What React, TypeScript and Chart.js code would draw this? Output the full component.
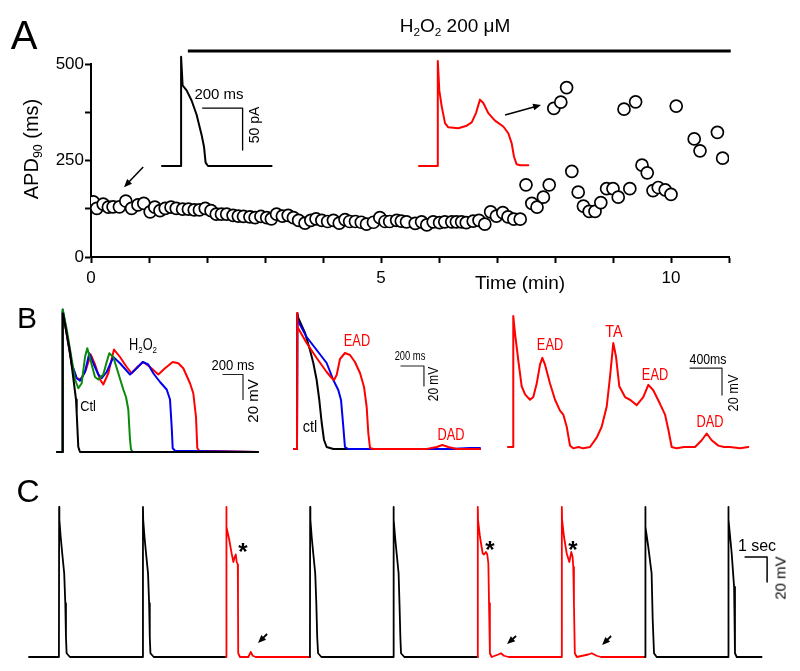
import React, { useEffect, useRef } from "react";
import { Chart, registerables } from "chart.js";
Chart.register(...registerables);

const FONT = "'Liberation Sans', Arial, Helvetica, sans-serif";
const RED = "#ff0000";
const BLACK = "#000000";
const GREEN = "#0a8a0a";
const BLUE = "#0000f0";

type Pt = [number, number];

// ---------- Panel A: APD90 (ms) vs time (min) ----------
const apdTime = [
  0.04, 0.1, 0.21, 0.3, 0.38, 0.49, 0.6, 0.7, 0.81, 0.91, 1.02, 1.1, 1.19, 1.28, 1.38, 1.47, 1.58, 1.68, 1.78, 1.87,
  1.97, 2.07, 2.16, 2.25, 2.34, 2.45, 2.54, 2.63, 2.74, 2.83, 2.93, 3.03, 3.11, 3.2, 3.3, 3.4, 3.49, 3.58, 3.69, 3.79,
  3.88, 3.98, 4.08, 4.18, 4.28, 4.38, 4.46, 4.56, 4.66, 4.75, 4.87, 4.98, 5.07, 5.15, 5.27, 5.35, 5.44, 5.59, 5.7, 5.79,
  5.9, 6.01, 6.1, 6.22, 6.3, 6.39, 6.47, 6.59, 6.69, 6.79, 6.89, 6.99, 7.1, 7.19, 7.29, 7.4, 7.5, 7.6, 7.69, 7.8,
  7.9, 7.98, 8.1, 8.2, 8.29, 8.4, 8.49, 8.59, 8.69, 8.79, 8.89, 9.0, 9.09, 9.19, 9.29, 9.39, 9.5, 9.59, 9.69, 9.78,
  9.9, 10.0, 10.09, 10.4, 10.5, 10.8, 10.89,
];
const apdValue = [
  143, 126, 137, 129, 130, 130, 145, 126, 135, 139, 117, 129, 120, 126, 129, 126, 124, 124, 122, 122,
  126, 120, 111, 111, 111, 108, 106, 105, 104, 102, 105, 102, 99, 111, 106, 108, 102, 95, 88, 95,
  99, 95, 92, 95, 88, 97, 92, 92, 90, 85, 90, 102, 92, 92, 95, 93, 91, 87, 91, 83,
  91, 89, 91, 91, 91, 91, 89, 93, 95, 85, 117, 106, 115, 104, 98, 98, 187, 139, 129, 155,
  187, 385, 401, 439, 222, 168, 132, 118, 118, 141, 177, 177, 155, 383, 177, 402, 238, 218, 172, 180,
  174, 162, 391, 306, 275, 323, 256,
];
const h2o2Bar: Pt[] = [[1.67, 534], [11.03, 534]];
const apdArrows = [
  { from: [0.9, 233] as Pt, to: [0.57, 181] as Pt },
  { from: [7.14, 368] as Pt, to: [7.76, 394] as Pt },
];
const xTickStep = 1;
const yTickStep = 125;

// inset traces in panel A (time ms, current pA)
const insetCtl: Pt[] = [[0, 0], [95, 0], [95.5, 130], [103, 96], [123, 90], [148, 78], [173, 61], [198, 37], [210, 23], [218, 4], [230, 0], [548, 0]];
const insetH2O2: Pt[] = [[0, 0], [93.5, 0], [94, 125], [101.5, 90], [113.5, 71], [130, 51], [146.5, 46], [196.5, 45], [238.5, 48], [263.5, 52], [285, 63], [305, 79], [321.5, 75], [346.5, 63], [380, 54], [421.5, 47], [446.5, 39], [463.5, 27], [475, 11], [488.5, 2], [505, 1], [546.5, 1]];
const insetBar: Pt[] = [[203, 69], [403, 69], [403, 19]];

// ---------- Panel B (time ms, voltage mV) ----------
const b1Ctl: Pt[] = [[0, -80], [55, -80], [57, 31], [63, 30], [130, 0], [190, -38], [197, -49], [213, -76], [230, -80], [2010, -80]];
const b1Green: Pt[] = [[0, -80], [55, -80], [57, 34], [97, 18], [147, -6], [180, -22], [213, -29], [247, -25], [280, -4], [303, 3], [330, -5], [380, -20], [413, -22], [463, -18], [497, -8], [523, -1], [563, -4], [613, -17], [663, -30], [690, -36], [713, -46], [730, -70], [740, -78], [760, -80], [2010, -80]];
const b1Blue: Pt[] = [[0, -80], [55, -80], [57, 34], [97, 15], [147, -9], [197, -21], [230, -23], [280, -16], [323, -1], [363, -9], [413, -18], [447, -21], [497, -16], [563, -4], [630, -9], [730, -18], [797, -13], [857, -8], [913, -10], [963, -17], [1030, -24], [1097, -30], [1130, -38], [1147, -60], [1157, -77], [1180, -79], [2010, -80]];
const b1Red: Pt[] = [[0, -80], [55, -80], [57, 32], [97, 14], [147, -10], [197, -21], [237, -22], [290, -14], [337, -2], [380, -10], [430, -22], [463, -26], [513, -17], [570, 2], [630, -4], [697, -12], [747, -17], [803, -12], [863, -8], [930, -12], [1013, -18], [1080, -13], [1157, -8], [1213, -9], [1263, -13], [1330, -25], [1363, -33], [1390, -52], [1403, -77], [1423, -79], [2010, -80]];
const b1Bar: Pt[] = [[1660, -18], [1860, -18], [1860, -38]];

const b2Ctl: Pt[] = [[0, -80], [26, -80], [29, 56], [37, 51], [96, 36], [139, 19], [168, 6], [197, -11], [220, -31], [241, -54], [261, -71], [284, -78], [342, -80], [1617, -80]];
const b2Blue: Pt[] = [[0, -80], [26, -80], [29, 54], [30, 49], [110, 32], [197, 19], [284, 6], [342, -11], [385, -21], [409, -31], [429, -58], [443, -78], [472, -80], [1357, -80], [1530, -79], [1617, -79]];
const b2Red: Pt[] = [[0, -80], [26, -80], [29, 56], [30, 42], [110, 26], [197, 11], [284, -3], [328, -9], [348, -11], [371, -6], [400, 10], [443, 16], [487, 14], [530, 7], [574, -4], [609, -18], [632, -38], [646, -64], [661, -79], [690, -80], [1154, -80], [1241, -78], [1290, -76], [1342, -78], [1415, -80], [1617, -80]];
const b2Bar: Pt[] = [[930, 3], [1130, 3], [1130, -17]];

const b3Trace: Pt[] = [[0, -80], [63, -80], [66, 17], [88, 4], [129, -16], [171, -35], [213, -41], [275, -45], [316, -43], [359, -33], [400, -19], [429, -14], [463, -19], [525, -33], [588, -45], [650, -53], [691, -56], [734, -65], [775, -79], [816, -81], [880, -80], [941, -81], [1025, -80], [1109, -73], [1171, -65], [1234, -50], [1275, -28], [1316, -3], [1350, -13], [1391, -35], [1463, -43], [1525, -45], [1609, -49], [1691, -43], [1754, -34], [1816, -38], [1900, -48], [1963, -56], [2004, -67], [2046, -80], [2109, -81], [2200, -80], [2338, -80], [2421, -75], [2484, -70], [2546, -75], [2629, -79], [2700, -80], [2775, -80], [2900, -81], [3004, -80]];
const b3Bar: Pt[] = [[2275, -21.5], [2675, -21.5], [2675, -41.5]];

// ---------- Panel C (time s, voltage mV) ----------
const cTrace: Pt[] = [
  [0, -80],
  [1.36, -80], [1.37, 40], [1.38, 30], [1.44, 16], [1.51, 3], [1.6, -13], [1.65, -37], [1.68, -64], [1.71, -77], [1.86, -80],
  [5.17, -80], [5.18, 40], [5.19, 30], [5.25, 16], [5.32, 3], [5.41, -13], [5.46, -37], [5.49, -64], [5.52, -77], [5.67, -80],
  [8.955, -80], [8.96, 40], [8.99, 24], [9.1, 14], [9.21, 3], [9.29, -4], [9.35, 0], [9.4, 2], [9.44, -4], [9.49, -6], [9.5, -37], [9.51, -77], [9.59, -80], [9.97, -80], [10.08, -76], [10.17, -79], [10.3, -80],
  [12.77, -80], [12.78, 40], [12.79, 30], [12.85, 16], [12.92, 3], [13.01, -13], [13.06, -37], [13.1, -64], [13.14, -77], [13.29, -80],
  [16.56, -80], [16.57, 40], [16.58, 30], [16.64, 16], [16.71, 3], [16.8, -13], [16.84, -37], [16.88, -64], [16.91, -77], [17.06, -80],
  [20.395, -80], [20.4, 40], [20.41, 30], [20.5, 16], [20.62, 3], [20.68, 2], [20.77, 4], [20.83, 2], [20.88, -5], [20.91, -37], [20.95, -77], [21.03, -80], [21.33, -78], [21.45, -77], [21.59, -79], [21.8, -80],
  [24.214, -80], [24.22, 40], [24.23, 30], [24.32, 16], [24.44, 3], [24.56, -4], [24.65, 4], [24.71, 0], [24.74, -8], [24.77, -37], [24.81, -77], [24.9, -80], [25.42, -78], [25.58, -77], [25.8, -79], [26.0, -80],
  [28.0, -80], [28.01, 40], [28.03, 24], [28.15, 8], [28.3, -13], [28.35, -50], [28.41, -77], [28.53, -80],
  [31.786, -80], [31.79, 40], [31.8, 30], [31.94, 3], [32.05, -24], [32.09, -77], [32.17, -80],
  [33.3, -80],
];
const cRedIntervals: Pt[] = [[7.545, 11.41], [19.0, 26.73]];
const cBar: Pt[] = [[32.55, 0], [33.55, 0], [33.55, -20]];
const cArrows = [
  { from: [10.82, -61.6] as Pt, to: [10.41, -68.8] as Pt },
  { from: [22.14, -63.2] as Pt, to: [21.73, -69.6] as Pt },
  { from: [26.46, -63.2] as Pt, to: [26.05, -70.4] as Pt },
];

// ---------- helpers ----------
type Arrow = { from: Pt; to: Pt };
function arrowPlugin(arrows: Arrow[], head: number, lw: number) {
  return {
    id: "arrows",
    afterDatasetsDraw(chart: any) {
      const { ctx } = chart;
      const xs = chart.scales.x, ys = chart.scales.y;
      ctx.save();
      ctx.strokeStyle = "#000";
      ctx.fillStyle = "#000";
      ctx.lineWidth = lw;
      for (const a of arrows) {
        const x1 = xs.getPixelForValue(a.from[0]), y1 = ys.getPixelForValue(a.from[1]);
        const x2 = xs.getPixelForValue(a.to[0]), y2 = ys.getPixelForValue(a.to[1]);
        const ang = Math.atan2(y2 - y1, x2 - x1);
        const c = Math.cos(ang), s = Math.sin(ang);
        ctx.beginPath();
        ctx.moveTo(x1, y1);
        ctx.lineTo(x2 - c * head * 0.7, y2 - s * head * 0.7);
        ctx.stroke();
        ctx.beginPath();
        ctx.moveTo(x2, y2);
        ctx.lineTo(x2 - head * c + head * 0.42 * s, y2 - head * s - head * 0.42 * c);
        ctx.lineTo(x2 - head * c - head * 0.42 * s, y2 - head * s + head * 0.42 * c);
        ctx.closePath();
        ctx.fill();
      }
      ctx.restore();
    },
  };
}

type Series = { pts: Pt[]; color: string; width: number; seg?: (x: number) => string };
type PanelProps = {
  left: number; top: number; width: number; height: number;
  ox: number; oy: number; sx: number; sy: number; yRef: number;
  series: Series[]; arrows?: Arrow[]; head?: number; arrowWidth?: number;
};

function TracePanel(p: PanelProps) {
  const ref = useRef<HTMLCanvasElement>(null);
  useEffect(() => {
    const xMin = (p.left - p.ox) / p.sx;
    const xMax = (p.left + p.width - p.ox) / p.sx;
    const yMax = p.yRef + (p.oy - p.top) / p.sy;
    const yMin = p.yRef + (p.oy - p.top - p.height) / p.sy;
    const chart = new Chart(ref.current as HTMLCanvasElement, {
      type: "line",
      data: {
        datasets: p.series.map((s) => ({
          data: s.pts.map(([x, y]) => ({ x, y })),
          borderColor: s.color,
          borderWidth: s.width,
          pointRadius: 0,
          tension: 0,
          fill: false,
          borderJoinStyle: "round",
          borderCapStyle: "round",
          segment: s.seg ? { borderColor: (ctx: any) => s.seg!(ctx.p0.parsed.x) } : undefined,
        })) as any,
      },
      options: {
        animation: false,
        responsive: false,
        events: [],
        layout: { padding: 0 },
        scales: {
          x: { type: "linear", min: xMin, max: xMax, display: false },
          y: { type: "linear", min: yMin, max: yMax, display: false },
        },
        plugins: { legend: { display: false }, tooltip: { enabled: false } },
      },
      plugins: p.arrows ? [arrowPlugin(p.arrows, p.head || 6, p.arrowWidth || 1.5)] : [],
    });
    return () => chart.destroy();
  }, []);
  return (
    <canvas
      ref={ref}
      width={p.width}
      height={p.height}
      style={{ position: "absolute", left: p.left, top: p.top, width: p.width, height: p.height }}
    />
  );
}

function ApdChart() {
  const ref = useRef<HTMLCanvasElement>(null);
  useEffect(() => {
    const pts = apdTime.map((t, i) => ({ x: t, y: apdValue[i] }));
    const tickFont = { family: FONT, size: 17 };
    const chart = new Chart(ref.current as HTMLCanvasElement, {
      type: "scatter",
      data: {
        datasets: [
          {
            type: "line",
            data: h2o2Bar.map(([x, y]) => ({ x, y })),
            borderColor: "#000",
            borderWidth: 3,
            pointRadius: 0,
            clip: false,
          } as any,
          {
            data: pts,
            pointRadius: 6,
            pointHoverRadius: 6,
            borderWidth: 1.7,
            borderColor: "#000",
            backgroundColor: "#fff",
          },
        ],
      },
      options: {
        animation: false,
        responsive: false,
        events: [],
        layout: { padding: { left: 0, top: 64, right: 71, bottom: 0 } },
        scales: {
          x: {
            type: "linear",
            min: 0,
            max: 11,
            afterFit: (s: any) => { s.height = 43; },
            border: { display: true, color: "#000", width: 2 },
            grid: { display: true, drawOnChartArea: false, drawTicks: true, tickLength: 6, tickWidth: 2, tickColor: "#000" },
            ticks: {
              stepSize: xTickStep,
              autoSkip: false,
              maxRotation: 0,
              padding: 5,
              color: "#000",
              font: tickFont,
              callback: (v: any) => (Number(v) % 5 === 0 ? String(v) : ""),
            },
          },
          y: {
            type: "linear",
            min: 0,
            max: 500,
            afterFit: (s: any) => { s.width = 91; },
            border: { display: true, color: "#000", width: 2 },
            grid: { display: true, drawOnChartArea: false, drawTicks: true, tickLength: 6, tickWidth: 2, tickColor: "#000" },
            ticks: {
              stepSize: yTickStep,
              autoSkip: false,
              padding: 1,
              color: "#000",
              font: tickFont,
              callback: (v: any) => (Number(v) % 250 === 0 ? String(v) : ""),
            },
          },
        },
        plugins: { legend: { display: false }, tooltip: { enabled: false } },
      },
      plugins: [arrowPlugin(apdArrows, 8, 1.5)],
    });
    return () => chart.destroy();
  }, []);
  return <canvas ref={ref} width={800} height={300} style={{ position: "absolute", left: 0, top: 0, width: 800, height: 300 }} />;
}

const Sub = ({ children }: { children: any }) => (
  <span style={{ fontSize: "0.62em", position: "relative", top: "0.32em" }}>{children}</span>
);

function Label(props: {
  x: number; y: number; size: number; children: any; color?: string; rot?: boolean;
  bold?: boolean; sx?: number;
}) {
  const { x, y, size, children, color = "#000", rot = false, bold = false, sx = 1 } = props;
  const rotPart = rot ? " rotate(-90deg)" : "";
  const scalePart = sx !== 1 ? ` scaleX(${sx})` : "";
  return (
    <div
      style={{
        position: "absolute",
        left: x,
        top: y,
        transform: `translate(-50%, -50%)${rotPart}${scalePart}`,
        fontSize: size,
        color,
        fontFamily: FONT,
        fontWeight: bold ? 700 : 400,
        lineHeight: 1,
        whiteSpace: "nowrap",
      }}
    >
      {children}
    </div>
  );
}

const inRed = (x: number) => cRedIntervals.some(([a, b]) => x >= a && x < b);

export default function App() {
  return (
    <div style={{ position: "absolute", left: 0, top: 0, width: 800, height: 671, background: "#fff", overflow: "hidden" }}>
      <ApdChart />
      <TracePanel left={155} top={50} width={125} height={122} ox={162} oy={166} sx={0.2} sy={0.84} yRef={0}
        series={[{ pts: insetCtl, color: BLACK, width: 2 }, { pts: insetBar, color: BLACK, width: 1.3 }]} />
      <TracePanel left={412} top={50} width={125} height={122} ox={419} oy={166} sx={0.2} sy={0.84} yRef={0}
        series={[{ pts: insetH2O2, color: RED, width: 2 }]} />

      <TracePanel left={52} top={300} width={212} height={160} ox={57} oy={452} sx={0.1} sy={1.25} yRef={-80}
        series={[
          { pts: b1Ctl, color: BLACK, width: 2 },
          { pts: b1Green, color: GREEN, width: 2 },
          { pts: b1Blue, color: BLUE, width: 2 },
          { pts: b1Red, color: RED, width: 2 },
          { pts: b1Bar, color: "#222", width: 1.2 },
        ]} />
      <TracePanel left={288} top={305} width={200} height={150} ox={294} oy={449} sx={0.115} sy={1} yRef={-80}
        series={[
          { pts: b2Red, color: RED, width: 2 },
          { pts: b2Blue, color: BLUE, width: 2 },
          { pts: b2Ctl, color: BLACK, width: 2 },
          { pts: b2Bar, color: "#222", width: 1.2 },
        ]} />
      <TracePanel left={500} top={305} width={255} height={150} ox={508} oy={447} sx={0.08} sy={1.35} yRef={-80}
        series={[
          { pts: b3Trace, color: RED, width: 2 },
          { pts: b3Bar, color: "#222", width: 1.2 },
        ]} />

      <TracePanel left={20} top={495} width={775} height={170} ox={29} oy={657} sx={22} sy={1.25} yRef={-80}
        arrows={cArrows} head={8} arrowWidth={1.8}
        series={[
          { pts: cTrace, color: BLACK, width: 1.8, seg: (x) => (inRed(x) ? RED : BLACK) },
          { pts: cBar, color: "#000", width: 1.5 },
        ]} />

      {/* Panel A text */}
      <Label x={24} y={35} size={40}>A</Label>
      <Label x={455} y={25} size={19}>H<Sub>2</Sub>O<Sub>2</Sub> 200 μM</Label>
      <Label x={31} y={149} size={20} rot>APD<Sub>90</Sub> (ms)</Label>
      <Label x={520} y={282} size={19}>Time (min)</Label>
      <Label x={219} y={93} size={15}>200 ms</Label>
      <Label x={254} y={125} size={14} rot>50 pA</Label>

      {/* Panel B text */}
      <Label x={27} y={318} size={30}>B</Label>
      <Label x={143} y={345} size={16} sx={0.8}>H<Sub>2</Sub>O<Sub>2</Sub></Label>
      <Label x={88} y={405} size={15} sx={0.85}>Ctl</Label>
      <Label x={233} y={364} size={15} sx={0.87}>200 ms</Label>
      <Label x={252} y={401} size={15} rot>20 mV</Label>

      <Label x={357} y={341} size={16} sx={0.8} color={RED}>EAD</Label>
      <Label x={310} y={427} size={16} sx={0.9}>ctl</Label>
      <Label x={451} y={435} size={16} sx={0.8} color={RED}>DAD</Label>
      <Label x={410} y={355} size={13} sx={0.72}>200 ms</Label>
      <Label x={433} y={384} size={14} rot sx={0.85}>20 mV</Label>

      <Label x={550} y={345} size={16} sx={0.8} color={RED}>EAD</Label>
      <Label x={614} y={332} size={16} sx={0.9} color={RED}>TA</Label>
      <Label x={655} y={375} size={16} sx={0.8} color={RED}>EAD</Label>
      <Label x={710} y={422} size={16} sx={0.8} color={RED}>DAD</Label>
      <Label x={708} y={358} size={15} sx={0.82}>400ms</Label>
      <Label x={732} y={393} size={15} rot sx={0.85}>20 mV</Label>

      {/* Panel C text */}
      <Label x={28} y={491} size={32}>C</Label>
      <Label x={243} y={552} size={24} bold>*</Label>
      <Label x={490} y={550} size={24} bold>*</Label>
      <Label x={573} y={550} size={24} bold>*</Label>
      <Label x={757} y={546} size={16}>1 sec</Label>
      <Label x={780} y={578} size={15} rot>20 mV</Label>
    </div>
  );
}
